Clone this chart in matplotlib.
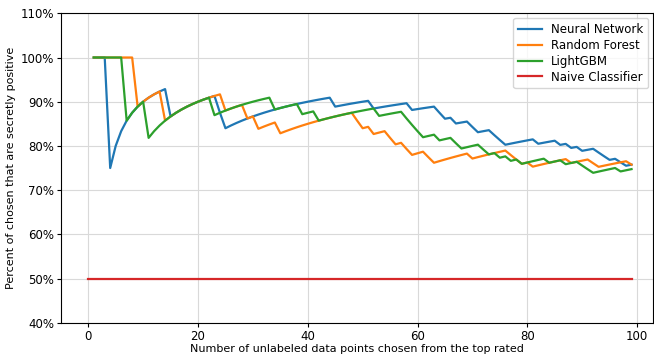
import numpy as np
import matplotlib
matplotlib.use("Agg")
import matplotlib.pyplot as plt
from matplotlib.ticker import PercentFormatter

# hit / miss (1 = secretly positive) for each of the top 99 rated points
nn_hits = [1, 1, 1, 0, 1, 1, 1, 1, 1, 1, 1, 1, 1, 1, 0, 1, 1, 1, 1, 1,
           1, 1, 1, 0, 0, 1, 1, 1, 1, 1, 1, 1, 1, 1, 1, 1, 1, 1, 1, 1,
           1, 1, 1, 1, 0, 1, 1, 1, 1, 1, 1, 0, 1, 1, 1, 1, 1, 1, 0, 1,
           1, 1, 1, 0, 0, 1, 0, 1, 1, 0, 0, 1, 1, 0, 0, 0, 1, 1, 1, 1,
           1, 0, 1, 1, 1, 0, 1, 0, 1, 0, 1, 1, 0, 0, 0, 1, 0, 0, 1]
rf_hits = [1, 1, 1, 1, 1, 1, 1, 1, 0, 1, 1, 1, 1, 0, 1, 1, 1, 1, 1, 1,
           1, 1, 1, 1, 0, 1, 1, 1, 0, 1, 0, 1, 1, 1, 0, 1, 1, 1, 1, 1,
           1, 1, 1, 1, 1, 1, 1, 1, 0, 0, 1, 0, 1, 1, 0, 0, 1, 0, 0, 1,
           1, 0, 0, 1, 1, 1, 1, 1, 1, 0, 1, 1, 1, 1, 1, 1, 0, 0, 0, 1,
           0, 1, 1, 1, 1, 1, 1, 0, 1, 1, 1, 0, 0, 1, 1, 1, 1, 1, 0]
lgbm_hits = [1, 1, 1, 1, 1, 1, 0, 1, 1, 1, 0, 1, 1, 1, 1, 1, 1, 1, 1, 1,
             1, 1, 0, 1, 1, 1, 1, 1, 1, 1, 1, 1, 1, 0, 1, 1, 1, 1, 0, 1,
             1, 0, 1, 1, 1, 1, 1, 1, 1, 1, 1, 1, 0, 1, 1, 1, 1, 0, 0, 0,
             0, 1, 1, 0, 1, 1, 0, 0, 1, 1, 1, 0, 0, 1, 0, 1, 0, 1, 0, 1,
             1, 1, 1, 0, 1, 1, 0, 1, 1, 0, 0, 0, 1, 1, 1, 1, 0, 1, 1]

naive_x = [0, 99]
naive_y = [0.5, 0.5]

labels = ["Neural Network", "Random Forest", "LightGBM", "Naive Classifier"]
colors = ["tab:blue", "tab:orange", "tab:green", "tab:red"]

plt.rcParams["font.family"] = "DejaVu Sans"
plt.rcParams["font.size"] = 8.5

fig = plt.figure(figsize=(6.54, 3.54), dpi=100)
ax = fig.add_axes([0.0934, 0.0884, 0.905, 0.874])

# precision among the first n chosen points
for hits, lab, col in zip([nn_hits, rf_hits, lgbm_hits], labels[:3], colors[:3]):
    n = np.arange(1, len(hits) + 1)
    ax.plot(n, np.cumsum(hits) / n, color=col, lw=1.6, label=lab)
ax.plot(naive_x, naive_y, color=colors[3], lw=1.6, label=labels[3])

ax.set_xlim(-4.95, 102.9)
ax.set_ylim(0.4, 1.1)
ax.set_yticks(np.arange(0.4, 1.11, 0.1))
ax.yaxis.set_major_formatter(PercentFormatter(1.0, decimals=0))
ax.tick_params(axis="x", length=3, pad=2)
ax.tick_params(axis="y", length=3, pad=2)
ax.grid(True, color="#d9d9d9", lw=0.8)
ax.set_xlabel("Number of unlabeled data points chosen from the top rated", fontsize=8, labelpad=1)
ax.set_ylabel("Percent of chosen that are secretly positive", fontsize=8, labelpad=3)
ax.legend(loc="upper right", labelspacing=0.25, borderaxespad=0.4)

fig.savefig("out.png", dpi=100)
